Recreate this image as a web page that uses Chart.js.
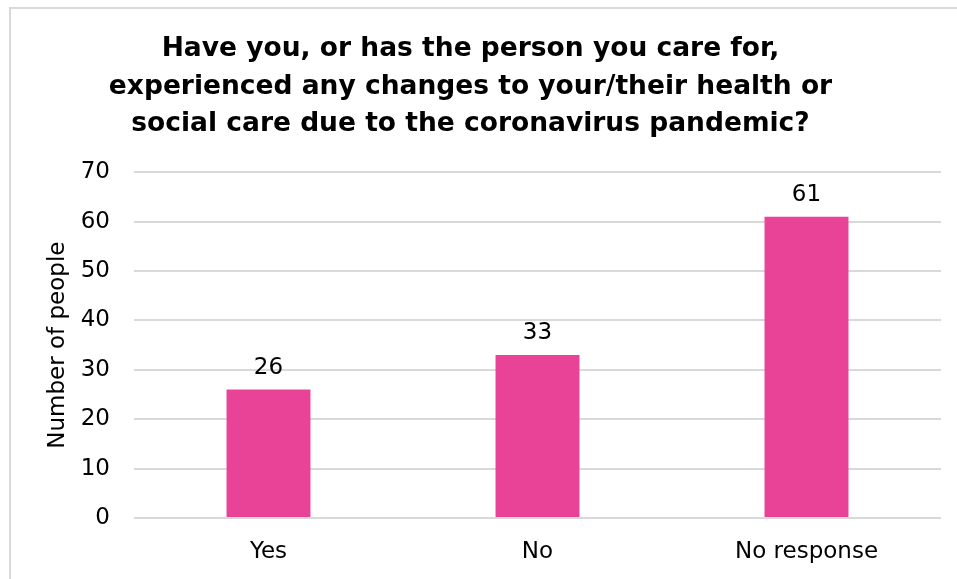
<!DOCTYPE html>
<html>
<head>
<meta charset="utf-8">
<script src="https://cdn.jsdelivr.net/npm/chart.js@4"></script>
<style>
  html, body { margin: 0; padding: 0; background: #fff; overflow: hidden; }
  #frame {
    position: absolute; left: 9px; top: 7px; width: 1000px; height: 1000px;
    border: 2px solid #d9d9d9; box-sizing: border-box;
  }
  #wrap { position: absolute; left: 0; top: 0; width: 957px; height: 579px; }
</style>
</head>
<body>
<div id="frame"></div>
<div id="wrap"><canvas id="chart"></canvas></div>
<script>
const titleLines = [
    'Have you, or has the person you care for,',
    'experienced any changes to your/their health or',
    'social care due to the coronavirus pandemic?'
];
const categories = ['Yes', 'No', 'No response'];
const counts = [26, 33, 61];
const yTicks = [0, 10, 20, 30, 40, 50, 60, 70];

const FONT = "'DejaVu Sans', sans-serif";
const PINK = '#e84396';

// value labels above each bar
const barValues = {
    id: 'barValues',
    afterDatasetsDraw(chart) {
        const ctx = chart.ctx;
        ctx.save();
        ctx.font = '23px ' + FONT;
        ctx.fillStyle = '#000';
        ctx.textAlign = 'center';
        ctx.textBaseline = 'middle';
        chart.getDatasetMeta(0).data.forEach((bar, i) => {
            ctx.fillText(String(counts[i]), bar.x, bar.y - 22);
        });
        ctx.restore();
    }
};

new Chart(document.getElementById('chart'), {
    type: 'bar',
    data: {
        labels: categories,
        datasets: [{
            data: counts,
            backgroundColor: PINK,
            borderWidth: 0,
            categoryPercentage: 1,
            barPercentage: 0.312
        }]
    },
    options: {
        responsive: true,
        maintainAspectRatio: false,
        animation: false,
        layout: { padding: { top: 31, right: 16, bottom: 13, left: 0 } },
        plugins: {
            legend: { display: false },
            tooltip: { enabled: false },
            title: {
                display: true,
                text: titleLines,
                color: '#000',
                font: { family: FONT, size: 26.5, weight: 'bold', lineHeight: 1.4 },
                padding: { top: 0, bottom: 30 }
            }
        },
        scales: {
            x: {
                afterFit(scale) { scale.height = 48; },
                grid: { display: false, drawTicks: false },
                border: { display: false },
                ticks: { color: '#000', padding: 20, maxRotation: 0, font: { family: FONT, size: 23 } }
            },
            y: {
                min: 0,
                max: 70,
                afterFit(scale) { scale.width = 134; },
                afterBuildTicks(scale) { scale.ticks = yTicks.map(v => ({ value: v })); },
                grid: { color: '#d9d9d9', lineWidth: 2, drawTicks: false },
                border: { display: false },
                ticks: { color: '#000', padding: 24, font: { family: FONT, size: 23 } },
                title: {
                    display: true,
                    text: 'Number of people',
                    color: '#000',
                    font: { family: FONT, size: 23 },
                    padding: { top: 44, bottom: 0 }
                }
            }
        }
    },
    plugins: [barValues]
});
</script>
</body>
</html>
